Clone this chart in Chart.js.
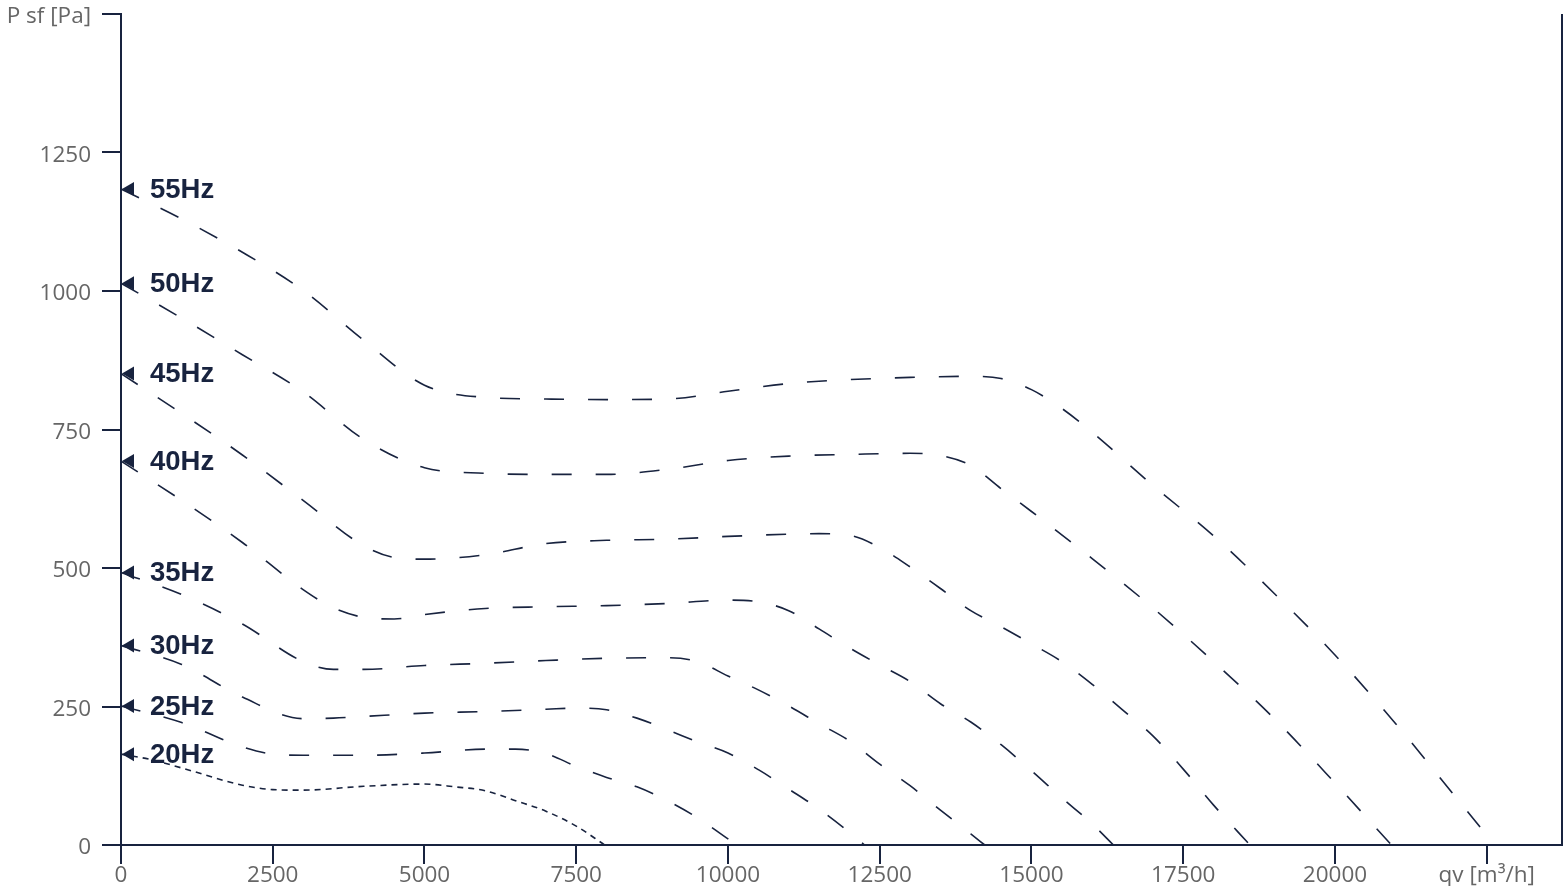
<!DOCTYPE html>
<html>
<head>
<meta charset="utf-8">
<script src="https://cdn.jsdelivr.net/npm/chart.js@4.4.1/dist/chart.umd.min.js"></script>
<style>
html,body{margin:0;padding:0;background:#ffffff;}
#wrap{width:1568px;height:896px;position:relative;}
</style>
</head>
<body>
<div id="wrap"><canvas id="c"></canvas></div>
<script>
// ---- data ----
const seriesNames = ['20Hz','25Hz','30Hz','35Hz','40Hz','45Hz','50Hz','55Hz'];

const q20 = [0,500,1000,2000,2500,3000,4000,5000,5500,6000,6500,7000,7500,7970];
const p20 = [164,154,139,108,100,99,106,110,105,98,80,61,34,0];

const q25 = [0,1000,2000,2500,3000,4000,5000,6000,6500,7000,7500,8000,8500,9000,9500,10000,10150];
const p25 = [251,221,177,164,162,162,166,173,173,165,142,122,105,80,49,11,0];

const q30 = [0,1000,2000,3000,3500,4000,5000,6000,7000,7500,8000,8500,9000,9500,10000,10500,11000,11500,12000,12250];
const p30 = [360,326,267,228,229,232,238,241,245,247,244,229,208,186,166,136,101,65,23,0];

const q35 = [0,1000,2000,3000,3500,4000,5000,6000,7000,8000,9000,9500,10000,10500,11000,11500,12000,12500,13000,13500,14000,14230];
const p35 = [492,452,399,331,317,317,324,328,333,337,338,331,305,280,251,219,188,146,107,63,20,0];

const q40 = [0,1000,2000,3000,3500,4000,4500,5000,6000,7000,8000,9000,10000,10500,11000,11500,12000,12500,13000,13500,14000,14500,15000,15500,16000,16350];
const p40 = [693,622,546,461,428,411,408,416,427,430,432,436,442,439,423,390,356,325,295,255,222,181,134,85,38,0];

const q45 = [0,1000,2000,3000,4000,4500,5000,6000,7000,8000,9000,10000,11000,11500,12000,12500,13000,13500,14000,14500,15000,15500,16000,16500,17000,17500,18000,18600];
const p45 = [851,779,704,622,540,519,516,524,544,550,552,557,561,562,559,537,502,463,423,394,363,331,290,244,197,137,72,0];

const q50 = [0,1000,2000,3000,4000,5000,6000,7000,8000,9000,10000,11000,12000,13000,13500,14000,14500,15000,16000,17000,18000,19000,20000,20930];
const p50 = [1014,951,885,818,732,681,671,669,669,678,694,702,705,707,703,685,643,602,517,428,331,228,112,0];

const q55 = [0,1000,2000,3000,4000,5000,6000,7000,8000,9000,10000,11000,12000,13000,14000,14500,15000,15500,16000,17000,18000,19000,20000,21000,22000,22630];
const p55 = [1184,1130,1070,1001,911,830,808,805,804,805,819,833,840,844,846,842,822,788,745,649,558,454,343,219,85,0];

const xTicks = [0,2500,5000,7500,10000,12500,15000,17500,20000,22500];
const yTicks = [0,250,500,750,1000,1250,1500];
const xAxisLabel = 'qv [m³/h]';
const yAxisLabel = 'P sf [Pa]';
const xLabelAt = 22500;
const yLabelAt = 1500;

// ---- build chart ----
const navy = '#18233f';
const qs = [q20,q25,q30,q35,q40,q45,q50,q55];
const ps = [p20,p25,p30,p35,p40,p45,p50,p55];

const datasets = seriesNames.map((name, i) => ({
  label: name,
  data: qs[i].map((x, k) => ({x: x, y: ps[i][k]})),
  borderColor: navy,
  borderWidth: 1.6,
  borderDash: i === 0 ? [6, 5] : [20, 24],
  pointRadius: 0,
  fill: false,
  cubicInterpolationMode: 'monotone',
  clip: false
}));

const markerPlugin = {
  id: 'markers',
  afterDatasetsDraw(chart) {
    const ctx = chart.ctx;
    const area = chart.chartArea;
    ctx.save();
    // right border line
    ctx.strokeStyle = navy;
    ctx.lineWidth = 2;
    ctx.beginPath();
    ctx.moveTo(area.right, area.top);
    ctx.lineTo(area.right, area.bottom + 1);
    ctx.stroke();
    // triangles and labels at each curve start
    chart.data.datasets.forEach((ds, i) => {
      const meta = chart.getDatasetMeta(i);
      const p = meta.data[0];
      if (!p) return;
      const x = p.x, y = p.y;
      ctx.fillStyle = navy;
      ctx.beginPath();
      ctx.moveTo(x + 1, y);
      ctx.lineTo(x + 13, y - 7);
      ctx.lineTo(x + 13, y + 7);
      ctx.closePath();
      ctx.fill();
      ctx.font = 'bold 27.5px "Liberation Sans", Arial, sans-serif';
      ctx.textBaseline = 'middle';
      ctx.textAlign = 'left';
      ctx.fillText(ds.label, x + 29, y + 1);
    });
    ctx.restore();
  }
};

const tickFont = {family: '"Open Sans", sans-serif', size: 22.5, lineHeight: 1};

new Chart(document.getElementById('c'), {
  type: 'line',
  data: {datasets: datasets},
  options: {
    responsive: true,
    maintainAspectRatio: false,
    animation: false,
    layout: {padding: {left: 8, right: 6, top: 14, bottom: 10}},
    plugins: {legend: {display: false}, tooltip: {enabled: false}},
    scales: {
      x: {
        type: 'linear',
        min: 0,
        max: 23740,
        afterBuildTicks: (s) => { s.ticks = xTicks.map(v => ({value: v})); },
        afterFit: (s) => { s.height = 41; s.paddingLeft = 0; s.paddingRight = 0; },
        ticks: {
          autoSkip: false,
          maxRotation: 0,
          padding: 0,
          color: '#666666',
          font: tickFont,
          callback: (v) => v === xLabelAt ? xAxisLabel : String(v)
        },
        grid: {drawOnChartArea: false, drawTicks: true, tickLength: 19, color: navy, lineWidth: 2},
        border: {color: navy, width: 2}
      },
      y: {
        type: 'linear',
        min: 0,
        max: 1500,
        afterBuildTicks: (s) => { s.ticks = yTicks.map(v => ({value: v})); },
        afterFit: (s) => { s.width = 113; s.paddingTop = 0; s.paddingBottom = 0; },
        ticks: {
          padding: 11,
          labelOffset: 3,
          color: '#666666',
          font: tickFont,
          callback: (v) => v === yLabelAt ? yAxisLabel : String(v)
        },
        grid: {drawOnChartArea: false, drawTicks: true, tickLength: 19, color: navy, lineWidth: 2},
        border: {color: navy, width: 2}
      }
    }
  },
  plugins: [markerPlugin]
});
</script>
</body>
</html>
